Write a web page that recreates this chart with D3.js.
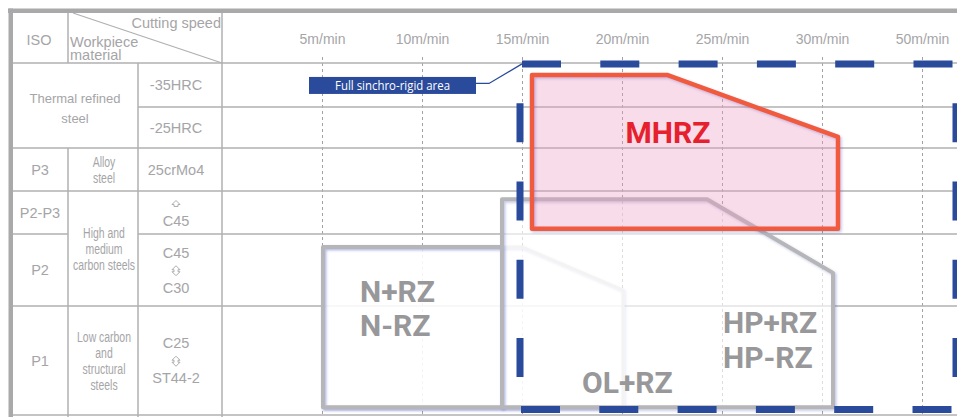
<!DOCTYPE html>
<html>
<head>
<meta charset="utf-8">
<script src="https://cdn.jsdelivr.net/npm/d3@7"></script>
<style>
  body { margin: 0; background: #fff; }
  svg { display: block; }
</style>
</head>
<body>
<div id="vis"></div>
<script>
// ---- data ----
const SPEEDS = [5, 10, 15, 20, 25, 30, 50];
const SPEED_LABELS = ["5m/min", "10m/min", "15m/min", "20m/min", "25m/min", "30m/min", "50m/min"];

// table cells: [lines, first row, last row]
const ISO_CELLS = [[["P3"], 2, 3], [["P2-P3"], 3, 4], [["P2"], 4, 5], [["P1"], 5, 6]];
const THERMAL_CELL = [["Thermal refined", "steel"], 0, 2];
const MATERIAL_CELLS = [
  [["Alloy", "steel"], 2, 3],
  [["High and", "medium", "carbon steels"], 3, 5],
  [["Low carbon", "and", "structural", "steels"], 5, 6]
];
const GRADE_CELLS = [
  [["-35HRC"], 0, 1],
  [["-25HRC"], 1, 2],
  [["25crMo4"], 2, 3],
  [["^", "C45"], 3, 4],
  [["C45", "<>", "C30"], 4, 5],
  [["C25", "<>", "ST44-2"], 5, 6]
];

// regions as [cutting speed m/min, row position]
const REGION_OL = [[5.05, 4.18], [15, 4.18], [20.05, 4.78], [20.05, 5.93], [5.05, 5.93]];
const REGION_N = [[5.05, 4.18], [14, 4.18], [14, 5.93], [5.05, 5.93]];
const REGION_HP = [[14, 3.19], [24.25, 3.19], [32.2, 4.54], [32.2, 5.93], [14, 5.93]];
const REGION_MHRZ = [[15.5, 0.27], [22.25, 0.27], [33.2, 1.73], [33.2, 3.88], [15.5, 3.88]];
const RIGID_AREA = [[14.9, 0.02], [56.8, 5.95]];

const REGION_NAMES = [["N+RZ", "N-RZ"], ["OL+RZ"], ["HP+RZ", "HP-RZ"], ["MHRZ"]];
const NAME_AT = [[6.9, 4.94], [18.0, 5.80], [25.05, 5.25], [22.3, 1.88]];
const RIGID_LABEL = "Full sinchro-rigid area";
const RIGID_LABEL_AT = [12.7, 0.51];

// ---- layout ----
const FRAME_WIDTH = 957;
const FRAME_HEIGHT = 417;
const ROW_EDGES = [63, 107, 148, 191, 234, 306, 415];
const COL_ISO = [12, 68];
const COL_MAT = [68, 138];
const COL_GRADE = [138, 222];
const GRID_TOP = 57;

const LINE_GRAY = "#b0b0b2";
const TEXT_GRAY = "#a5a5a7";
const BLUE = "#2a4a9b";
const FONT = "'Liberation Sans', Arial, sans-serif";

const svg = d3.select("#vis")
  .append("svg")
    .attr("width", FRAME_WIDTH)
    .attr("height", FRAME_HEIGHT);

// soft bluish shadow behind region outlines
const defs = svg.append("defs");
defs.append("filter")
    .attr("id", "halo")
    .attr("x", "-5%").attr("y", "-5%").attr("width", "110%").attr("height", "110%")
  .append("feDropShadow")
    .attr("dx", 1.5).attr("dy", 1.5)
    .attr("stdDeviation", 1.2)
    .attr("flood-color", "#3848b8")
    .attr("flood-opacity", 0.3);

// scales
const X = d3.scaleLinear()
  .domain(SPEEDS)
  .range(SPEEDS.map((d, i) => 322 + i * 100));
const Y = d3.scaleLinear()
  .domain(d3.range(ROW_EDGES.length))
  .range(ROW_EDGES);

// dotted speed gridlines
const grid = svg.append("g")
    .attr("transform", "translate(0," + GRID_TOP + ")")
    .call(d3.axisBottom(X).tickValues(SPEEDS).tickSize(FRAME_HEIGHT - GRID_TOP).tickFormat(""));
grid.select(".domain").remove();
grid.selectAll("line")
    .attr("stroke", "#a2a2a4")
    .attr("stroke-width", 1)
    .attr("stroke-dasharray", "3,3");

// speed labels
const axis = svg.append("g")
    .attr("transform", "translate(0,52)")
    .call(d3.axisTop(X).tickValues(SPEEDS).tickSize(0).tickPadding(8)
      .tickFormat((d, i) => SPEED_LABELS[i]));
axis.select(".domain").remove();
axis.selectAll("text")
    .attr("fill", TEXT_GRAY)
    .attr("font-family", FONT)
    .attr("font-size", "14px");

// table / row lines
const hLines = [
  [Y(0), 10, FRAME_WIDTH], [Y(1), COL_GRADE[0], FRAME_WIDTH], [Y(2), 10, FRAME_WIDTH],
  [Y(3), 10, FRAME_WIDTH], [Y(4), 10, COL_ISO[1]], [Y(4), COL_GRADE[0], FRAME_WIDTH],
  [Y(5), 10, FRAME_WIDTH], [Y(6), 10, FRAME_WIDTH]
];
svg.append("g").selectAll("line")
  .data(hLines)
  .enter()
  .append("line")
    .attr("x1", d => d[1]).attr("x2", d => d[2])
    .attr("y1", d => d[0]).attr("y2", d => d[0])
    .attr("stroke", LINE_GRAY)
    .attr("stroke-width", 1.5);

const vLines = [
  [COL_ISO[1], 12, Y(0)], [COL_ISO[1], Y(2), FRAME_HEIGHT],
  [COL_MAT[1], Y(0), FRAME_HEIGHT], [COL_GRADE[1], 12, FRAME_HEIGHT]
];
svg.append("g").selectAll("line")
  .data(vLines)
  .enter()
  .append("line")
    .attr("x1", d => d[0]).attr("x2", d => d[0])
    .attr("y1", d => d[1]).attr("y2", d => d[2])
    .attr("stroke", LINE_GRAY)
    .attr("stroke-width", 1.5);

// header diagonal
svg.append("line")
    .attr("x1", 73).attr("y1", 13)
    .attr("x2", COL_GRADE[1]).attr("y2", Y(0))
    .attr("stroke", LINE_GRAY)
    .attr("stroke-width", 1.3);

// thick outer border
svg.append("rect")
    .attr("x", 8).attr("y", 8.5)
    .attr("width", FRAME_WIDTH - 8).attr("height", 4.5)
    .attr("fill", "#a9a9ab");
svg.append("rect")
    .attr("x", 8.5).attr("y", 8.5)
    .attr("width", 4.5).attr("height", FRAME_HEIGHT - 8)
    .attr("fill", "#a9a9ab");

// header text
const header = svg.append("g")
    .attr("fill", TEXT_GRAY)
    .attr("font-family", FONT);
header.append("text")
    .attr("x", (COL_ISO[0] + COL_ISO[1]) / 2 - 1).attr("y", 45)
    .attr("text-anchor", "middle")
    .attr("font-size", "14.5px")
    .text("ISO");
header.append("text")
    .attr("x", COL_GRADE[1] - 1).attr("y", 28)
    .attr("text-anchor", "end")
    .attr("font-size", "14.5px")
    .text("Cutting speed");
header.append("text")
    .attr("x", COL_MAT[0] + 2).attr("y", 47)
    .attr("font-size", "14.5px")
    .text("Workpiece");
header.append("text")
    .attr("x", COL_MAT[0] + 2).attr("y", 60)
    .attr("font-size", "14.5px")
    .text("material");

// table cell text; squeeze < 1 gives a condensed look
function drawCell(cell, x, pitch, size, squeeze, shift) {
  const lines = cell[0];
  const mid = (Y(cell[1]) + Y(cell[2])) / 2;
  const first = mid - (lines.length - 1) * pitch / 2 + size * 0.36 + shift;
  lines.forEach((t, i) => {
    const yy = first + i * pitch;
    if (t === "^" || t === "<>") {
      const cy = yy - 4.5;
      const pts = t === "^"
        ? [[0, -4], [4, 0], [2, 0], [2, 2], [-2, 2], [-2, 0], [-4, 0]]
        : [[0, -5], [4, -1], [2, -1], [2, 1], [4, 1], [0, 5], [-4, 1], [-2, 1], [-2, -1], [-4, -1]];
      svg.append("path")
          .attr("d", d3.line()(pts.map(p => [x + p[0], cy + p[1]])) + "Z")
          .attr("fill", "none")
          .attr("stroke", TEXT_GRAY)
          .attr("stroke-width", 0.9);
    } else {
      svg.append("text")
          .attr("transform", "translate(" + x + "," + yy + ") scale(" + squeeze + ",1)")
          .attr("text-anchor", "middle")
          .attr("fill", TEXT_GRAY)
          .attr("font-family", FONT)
          .attr("font-size", size + "px")
          .text(t);
    }
  });
}

ISO_CELLS.forEach(c => drawCell(c, (COL_ISO[0] + COL_ISO[1]) / 2, 17, 14.5, 1, 0));
drawCell(THERMAL_CELL, (COL_ISO[0] + COL_MAT[1]) / 2, 20, 13, 1, 3);
MATERIAL_CELLS.forEach(c => drawCell(c, (COL_MAT[0] + COL_MAT[1]) / 2 + 1, 16, 14.5, 0.72, 0));
GRADE_CELLS.forEach(c => drawCell(c, (COL_GRADE[0] + COL_GRADE[1]) / 2 - 4, 17.5, 14.5, 1, 0));

// regions
const poly = pts => d3.line()(pts.map(p => [X(p[0]), Y(p[1])])) + "Z";

[REGION_OL, REGION_N, REGION_HP].forEach((r, i) => {
  svg.append("path")
      .attr("d", poly(r))
      .attr("fill", "#fff")
      .attr("fill-opacity", 0.65);
  svg.append("path")
      .attr("d", poly(r))
      .attr("fill", "none")
      .attr("stroke", i === 0 ? "#dcdce0" : "#b6b6b8")
      .attr("stroke-width", i === 0 ? 3 : 4)
      .attr("stroke-linejoin", "round")
      .attr("filter", "url(#halo)");
});

svg.append("path")
    .attr("d", poly(REGION_MHRZ))
    .attr("fill", "#ee9cc0")
    .attr("fill-opacity", 0.35);
svg.append("path")
    .attr("d", poly(REGION_MHRZ))
    .attr("fill", "none")
    .attr("stroke", "#f05a3e")
    .attr("stroke-width", 4.5)
    .attr("stroke-linejoin", "round")
    .attr("filter", "url(#halo)");

// full sinchro-rigid area (dashed blue frame)
const rx0 = X(RIGID_AREA[0][0]), ry0 = Y(RIGID_AREA[0][1]);
const rx1 = X(RIGID_AREA[1][0]), ry1 = Y(RIGID_AREA[1][1]);
const rigidEdges = [
  [[rx0 + 2, ry0], [rx1, ry0], 0],
  [[rx0, ry0], [rx0, ry1], 39],
  [[rx1, ry0], [rx1, ry1], 39],
  [[rx0 + 1, ry1], [rx1, ry1], 0]
];
svg.append("g").selectAll("line")
  .data(rigidEdges)
  .enter()
  .append("line")
    .attr("x1", d => d[0][0]).attr("y1", d => d[0][1])
    .attr("x2", d => d[1][0]).attr("y2", d => d[1][1])
    .attr("stroke", BLUE)
    .attr("stroke-width", 7)
    .attr("stroke-dasharray", "39,39.3")
    .attr("stroke-dashoffset", d => d[2]);

// label box and leader
const lbx = X(RIGID_LABEL_AT[0]), lby = Y(RIGID_LABEL_AT[1]);
svg.append("polyline")
    .attr("points", [[lbx, lby - 2], [lbx + 13, lby - 2], [rx0 + 2, ry0]].join(" "))
    .attr("fill", "none")
    .attr("stroke", BLUE)
    .attr("stroke-width", 1.3);
svg.append("rect")
    .attr("x", lbx - 167).attr("y", lby - 8.5)
    .attr("width", 167).attr("height", 17)
    .attr("fill", BLUE);
svg.append("text")
    .attr("x", lbx - 83.5).attr("y", lby + 4.5)
    .attr("text-anchor", "middle")
    .attr("fill", "#fff")
    .attr("font-family", "'Open Sans', sans-serif")
    .attr("font-size", "12.5px")
    .attr("textLength", 115)
    .attr("lengthAdjust", "spacingAndGlyphs")
    .text(RIGID_LABEL);

// region names
REGION_NAMES.forEach((lines, i) => {
  const isM = i === 3;
  lines.forEach((t, j) => {
    svg.append("text")
        .attr("x", X(NAME_AT[i][0]))
        .attr("y", Y(NAME_AT[i][1]) + j * 34.5)
        .attr("text-anchor", isM ? "middle" : "start")
        .attr("fill", isM ? "#e6202c" : "#98989a")
        .attr("font-family", "Roboto, sans-serif")
        .attr("font-weight", 700)
        .attr("font-size", "30px")
        .text(t);
  });
});
</script>
</body>
</html>
